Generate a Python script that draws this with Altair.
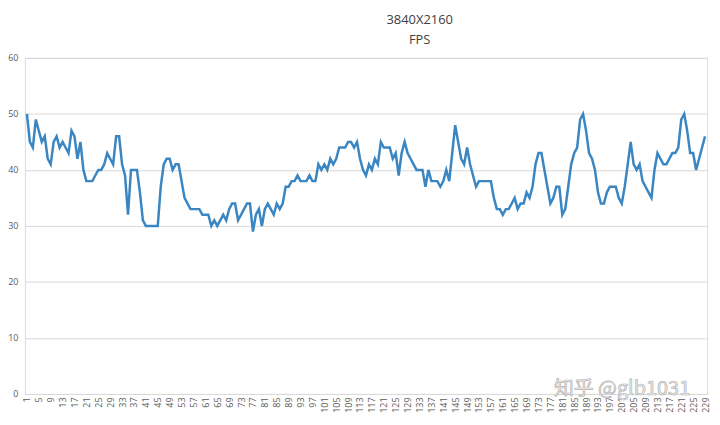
import altair as alt
import pandas as pd

# ---- data ----
frames = list(range(1, 230))
fps = [
    50, 45, 44, 49, 47, 45, 46, 42, 41, 45,
    46, 44, 45, 44, 43, 47, 46, 42, 45, 40,
    38, 38, 38, 39, 40, 40, 41, 43, 42, 41,
    46, 46, 41, 39, 32, 40, 40, 40, 36, 31,
    30, 30, 30, 30, 30, 37, 41, 42, 42, 40,
    41, 41, 38, 35, 34, 33, 33, 33, 33, 32,
    32, 32, 30, 31, 30, 31, 32, 31, 33, 34,
    34, 31, 32, 33, 34, 34, 29, 32, 33, 30,
    33, 34, 33, 32, 34, 33, 34, 37, 37, 38,
    38, 39, 38, 38, 38, 39, 38, 38, 41, 40,
    41, 40, 42, 41, 42, 44, 44, 44, 45, 45,
    44, 45, 42, 40, 39, 41, 40, 42, 41, 45,
    44, 44, 44, 42, 43, 39, 43, 45, 43, 42,
    41, 40, 40, 40, 37, 40, 38, 38, 38, 37,
    38, 40, 38, 43, 48, 45, 42, 41, 44, 41,
    39, 37, 38, 38, 38, 38, 38, 35, 33, 33,
    32, 33, 33, 34, 35, 33, 34, 34, 36, 35,
    37, 41, 43, 43, 40, 37, 34, 35, 37, 37,
    32, 33, 37, 41, 43, 44, 49, 50, 47, 43,
    42, 40, 36, 34, 34, 36, 37, 37, 37, 35,
    34, 37, 41, 45, 41, 40, 41, 38, 37, 36,
    35, 40, 43, 42, 41, 41, 42, 43, 43, 44,
    49, 50, 47, 43, 43, 40, 42, 44, 46,
]
x_tick_labels = [1, 5, 9, 13, 17, 21, 25, 29, 33, 37, 41, 45, 49, 53, 57,
                 61, 65, 69, 73, 77, 81, 85, 89, 93, 97, 101, 105, 109, 113,
                 117, 121, 125, 129, 133, 137, 141, 145, 149, 153, 157, 161,
                 165, 169, 173, 177, 181, 185, 189, 193, 197, 201, 205, 209,
                 213, 217, 221, 225, 229]
y_tick_labels = [0, 10, 20, 30, 40, 50, 60]
title_lines = ["3840X2160", "FPS"]
watermark = ["知乎 @glb1031"]

df = pd.DataFrame({"frame": frames, "fps": fps})

FONT = "Open Sans"

line = alt.Chart(df).mark_line(color="#3a86c2", strokeWidth=2.5).encode(
    x=alt.X(
        "frame:Q",
        scale=alt.Scale(domain=[0.33, 229.67], nice=False, zero=False),
        axis=alt.Axis(
            values=x_tick_labels, labelAngle=-90, labelAlign="right",
            labelBaseline="middle", grid=False, ticks=False,
            domainColor="#d9d9d9", domainWidth=1, labelColor="#595959",
            labelFontSize=9, labelFont=FONT, labelPadding=3, title=None,
            labelFlush=False, labelOverlap=False,
        ),
    ),
    y=alt.Y(
        "fps:Q",
        scale=alt.Scale(domain=[0, 60], nice=False),
        axis=alt.Axis(
            values=y_tick_labels, grid=True, gridColor="#d9d9d9",
            gridWidth=1, domain=False, ticks=False, labelColor="#595959",
            labelFontSize=9, labelFont=FONT, labelPadding=7, title=None,
        ),
    ),
)

wm = alt.Chart(pd.DataFrame({"t": watermark})).mark_text(
    font="Noto Sans CJK SC", fontSize=20, align="left", baseline="middle",
    color="#eeeeee", stroke="#b4b4b4", strokeWidth=0.7,
).encode(text="t:N", x=alt.value(532), y=alt.value(333))

chart = alt.layer(line, wm).properties(
    width=686,
    height=338,
    autosize="none",
    padding={"left": 17, "top": 49, "right": 5, "bottom": 25},
    title=alt.TitleParams(
        text=title_lines, fontSize=13, fontWeight="normal", color="#404040",
        font=FONT, anchor="middle", frame="group", dx=54, offset=7,
        lineHeight=20,
    ),
).configure_view(stroke=None).configure(background="white")

chart.save("out.html", embed_options={"renderer": "svg", "actions": False})
